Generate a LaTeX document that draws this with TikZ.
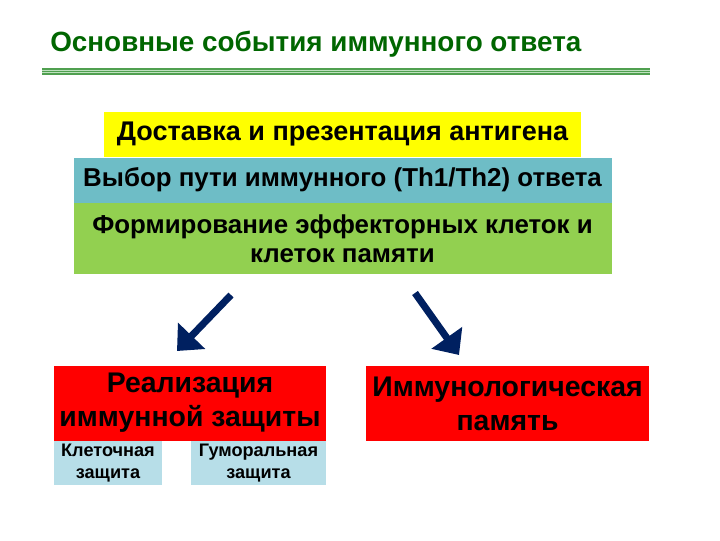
\documentclass[tikz,border=0pt]{standalone}
\usepackage{fontspec}
\setmainfont{Liberation Sans}
\usetikzlibrary{positioning,arrows.meta}
\definecolor{mytitle}{RGB}{0,102,0}
\definecolor{myrule}{RGB}{80,160,80}
\definecolor{myrulelight}{RGB}{190,225,190}
\definecolor{myyellow}{RGB}{255,255,0}
\definecolor{myteal}{RGB}{110,189,198}
\definecolor{mygreen}{RGB}{146,208,80}
\definecolor{myred}{RGB}{255,0,0}
\definecolor{mylight}{RGB}{183,222,232}
\definecolor{mynavy}{RGB}{0,32,96}
\newlength\unitpx
\setlength\unitpx{0.025cm}

\begin{document}
\begin{tikzpicture}[x=0.025cm,y=-0.025cm,
  stage/.style={inner sep=0pt,align=center,font=\fontsize{18.4}{20.5}\selectfont\bfseries},
  result/.style={stage,fill=myred,minimum height=75\unitpx,font=\fontsize{20.2}{24}\selectfont\bfseries},
  branch/.style={inner sep=0pt,align=center,fill=mylight,minimum height=44\unitpx,
    anchor=north,font=\fontsize{12.9}{16}\selectfont\bfseries},
  bigarrow/.style={mynavy,line width=5pt,-{Triangle[length=15pt,width=26pt]}}]

  \useasboundingbox (0,0) rectangle (720,540);

  \node[anchor=base west,inner sep=0pt,text=mytitle,font=\fontsize{19.8}{22}\selectfont\bfseries] (title) at (50,51)
    {Основные события иммунного ответа};

  % green rule under the title
  \coordinate (ruleL) at (42,71.5);
  \coordinate (ruleR) at (650,71.5);
  \draw[myrule,line width=5pt] (ruleL) -- (ruleR);
  \draw[myrulelight,line width=0.6pt] ([yshift=0.9pt]ruleL) -- ([yshift=0.9pt]ruleR)
    ([yshift=-0.9pt]ruleL) -- ([yshift=-0.9pt]ruleR);

  \node[stage,fill=myyellow,minimum width=477\unitpx,minimum height=45\unitpx,font=\fontsize{19.2}{20}\selectfont\bfseries] (deliv) at (342.5,134.5)
    {Доставка и презентация антигена};
  \node[stage,fill=myteal,minimum width=538\unitpx,minimum height=45\unitpx,below=0pt of deliv.south,anchor=north] (choice)
    {Выбор пути иммунного (Th1/Th2) ответа};
  \node[stage,fill=mygreen,minimum width=538\unitpx,minimum height=71\unitpx,below=0pt of choice] (effect)
    {Формирование эффекторных клеток и\\клеток памяти};

  \node[result,minimum width=272\unitpx] (realiz) at (190,403)
    {Реализация\\иммунной защиты};
  \node[result,minimum width=283\unitpx] (memory) at (507.5,403.5)
    {Иммунологическая\\память};

  \node[branch,minimum width=108\unitpx,anchor=north west] (cell) at (realiz.south west)
    {Клеточная\\защита};
  \node[branch,minimum width=135\unitpx,anchor=north east] (humor) at (realiz.south east)
    {Гуморальная\\защита};

  % draw arrows
  \coordinate (leftA) at (231,295);
  \coordinate (leftB) at (177,351);
  \coordinate (rightA) at (415,293);
  \coordinate (rightB) at (459,355);
  \draw[bigarrow] (leftA) -- (leftB);
  \draw[bigarrow] (rightA) -- (rightB);

\end{tikzpicture}
\end{document}
